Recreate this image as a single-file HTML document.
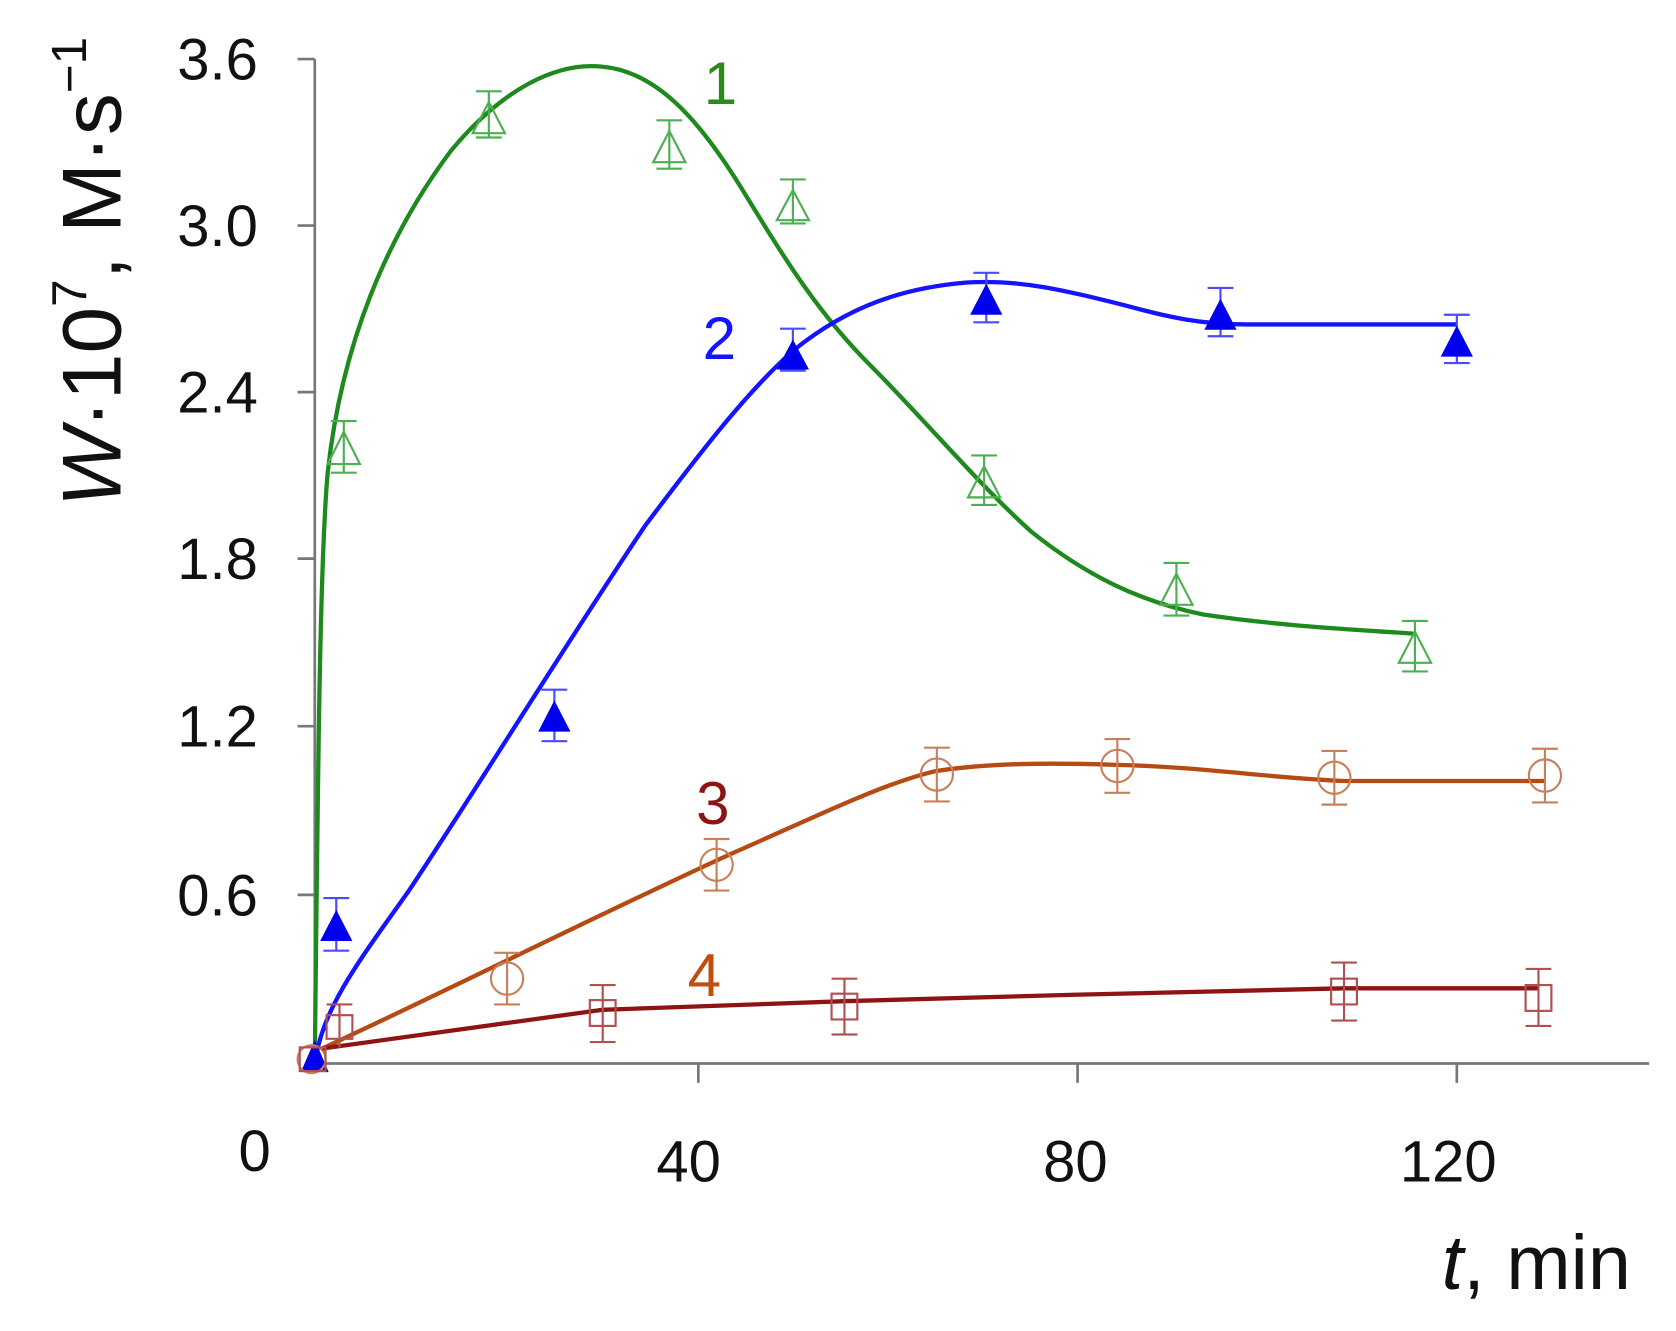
<!DOCTYPE html>
<html><head><style>html,body{margin:0;padding:0;background:#fff}svg{display:block}</style></head>
<body>
<svg width="1676" height="1331" viewBox="0 0 1560 1239" preserveAspectRatio="none" xmlns="http://www.w3.org/2000/svg" font-family="Liberation Sans, sans-serif">
<g stroke="#777" stroke-width="2.5" fill="none">
<line x1="293" y1="55" x2="293" y2="990"/>
<line x1="293" y1="990" x2="1535" y2="990"/>
<line x1="277" y1="55" x2="293" y2="55"/>
<line x1="277" y1="210" x2="293" y2="210"/>
<line x1="277" y1="365" x2="293" y2="365"/>
<line x1="277" y1="520" x2="293" y2="520"/>
<line x1="277" y1="676" x2="293" y2="676"/>
<line x1="277" y1="833" x2="293" y2="833"/>
<line x1="650" y1="990" x2="650" y2="1008"/>
<line x1="1003" y1="990" x2="1003" y2="1008"/>
<line x1="1356" y1="990" x2="1356" y2="1008"/>
</g>
<g font-size="54" fill="#111" text-anchor="end">
<text x="240" y="74">3.6</text>
<text x="240" y="229">3.0</text>
<text x="240" y="384">2.4</text>
<text x="240" y="539">1.8</text>
<text x="240" y="695">1.2</text>
<text x="240" y="852">0.6</text>
</g>
<g font-size="54" fill="#111" text-anchor="middle">
<text x="237" y="1090">0</text>
<text x="641" y="1100">40</text>
<text x="1001" y="1100">80</text>
<text x="1348" y="1100">120</text>
</g>
<text x="1430" y="1200" font-size="72" fill="#111" text-anchor="middle"><tspan font-style="italic">t</tspan>, min</text>
<text transform="translate(112,472) rotate(-90)" font-size="78" fill="#111"><tspan font-style="italic">W</tspan>·10<tspan font-size="46" dy="-32">7</tspan><tspan dy="32">, M·s</tspan><tspan font-size="46" dy="-32">−1</tspan></text>

<!-- series 1 green -->
<path d="M293,990 C296,700 298,520 305,440 C318,320 360,220 420,140 C470,80 520,58 560,62 C610,66 650,110 690,175 C730,240 760,290 810,340 C860,390 910,450 960,495 C1010,535 1060,560 1120,572 C1200,584 1280,587 1317,590" stroke="#1e8a1e" stroke-width="4" fill="none"/>
<g stroke="#4caf50" stroke-width="2" fill="none">
<g><line x1="320" y1="392" x2="320" y2="440"/><line x1="308" y1="392" x2="332" y2="392"/><line x1="308" y1="440" x2="332" y2="440"/><polygon points="320,402 305,432 335,432"/></g>
<g><line x1="455" y1="85" x2="455" y2="128"/><line x1="443" y1="85" x2="467" y2="85"/><line x1="443" y1="128" x2="467" y2="128"/><polygon points="455,95 440,124 470,124"/></g>
<g><line x1="623" y1="112" x2="623" y2="157"/><line x1="611" y1="112" x2="635" y2="112"/><line x1="611" y1="157" x2="635" y2="157"/><polygon points="623,122 608,151 638,151"/></g>
<g><line x1="738" y1="167" x2="738" y2="208"/><line x1="726" y1="167" x2="750" y2="167"/><line x1="726" y1="208" x2="750" y2="208"/><polygon points="738,177 723,205 753,205"/></g>
<g><line x1="916" y1="424" x2="916" y2="470"/><line x1="904" y1="424" x2="928" y2="424"/><line x1="904" y1="470" x2="928" y2="470"/><polygon points="916,434 901,463 931,463"/></g>
<g><line x1="1095" y1="524" x2="1095" y2="573"/><line x1="1083" y1="524" x2="1107" y2="524"/><line x1="1083" y1="573" x2="1107" y2="573"/><polygon points="1095,534 1080,563 1110,563"/></g>
<g><line x1="1317" y1="578" x2="1317" y2="625"/><line x1="1305" y1="578" x2="1329" y2="578"/><line x1="1305" y1="625" x2="1329" y2="625"/><polygon points="1317,588 1302,617 1332,617"/></g>
</g>

<!-- series 2 blue -->
<path d="M293,990 C300,940 330,900 380,830 C440,740 520,610 600,490 C660,410 700,360 740,325 C790,285 840,268 900,263 C950,260 990,270 1050,285 C1090,296 1120,302 1160,302 L1356,302" stroke="#1414ff" stroke-width="4" fill="none"/>
<g stroke="#4a4aff" stroke-width="2" fill="#0000ee">
<g><line x1="313" y1="836" x2="313" y2="885" fill="none"/><line x1="301" y1="836" x2="325" y2="836"/><line x1="301" y1="885" x2="325" y2="885"/><polygon points="313,847 298,876 328,876" stroke="none"/></g>
<g><line x1="516" y1="642" x2="516" y2="690"/><line x1="504" y1="642" x2="528" y2="642"/><line x1="504" y1="690" x2="528" y2="690"/><polygon points="516,652 501,681 531,681" stroke="none"/></g>
<g><line x1="738" y1="306" x2="738" y2="345"/><line x1="726" y1="306" x2="750" y2="306"/><line x1="726" y1="345" x2="750" y2="345"/><polygon points="738,316 723,344 753,344" stroke="none"/></g>
<g><line x1="918" y1="254" x2="918" y2="300"/><line x1="906" y1="254" x2="930" y2="254"/><line x1="906" y1="300" x2="930" y2="300"/><polygon points="918,264 903,293 933,293" stroke="none"/></g>
<g><line x1="1136" y1="268" x2="1136" y2="313"/><line x1="1124" y1="268" x2="1148" y2="268"/><line x1="1124" y1="313" x2="1148" y2="313"/><polygon points="1136,278 1121,307 1151,307" stroke="none"/></g>
<g><line x1="1356" y1="293" x2="1356" y2="338"/><line x1="1344" y1="293" x2="1368" y2="293"/><line x1="1344" y1="338" x2="1368" y2="338"/><polygon points="1356,303 1341,332 1371,332" stroke="none"/></g>
<polygon points="293,968 280,998 306,998" fill="#0000ee" stroke="none"/>
</g>

<!-- series 3 orange-brown -->
<path d="M300,976 C400,930 560,850 680,795 C760,760 820,730 870,718 C920,710 980,710 1040,712 C1120,714 1180,724 1250,727 L1438,727" stroke="#b54a12" stroke-width="4" fill="none"/>
<g stroke="#c8805a" stroke-width="2" fill="none">
<g><line x1="472" y1="887" x2="472" y2="935"/><line x1="460" y1="887" x2="484" y2="887"/><line x1="460" y1="935" x2="484" y2="935"/><circle cx="472" cy="911" r="15"/></g>
<g><line x1="667" y1="781" x2="667" y2="829"/><line x1="655" y1="781" x2="679" y2="781"/><line x1="655" y1="829" x2="679" y2="829"/><circle cx="667" cy="805" r="15"/></g>
<g><line x1="872" y1="696" x2="872" y2="746"/><line x1="860" y1="696" x2="884" y2="696"/><line x1="860" y1="746" x2="884" y2="746"/><circle cx="872" cy="721" r="15"/></g>
<g><line x1="1040" y1="688" x2="1040" y2="738"/><line x1="1028" y1="688" x2="1052" y2="688"/><line x1="1028" y1="738" x2="1052" y2="738"/><circle cx="1040" cy="713" r="15"/></g>
<g><line x1="1242" y1="699" x2="1242" y2="749"/><line x1="1230" y1="699" x2="1254" y2="699"/><line x1="1230" y1="749" x2="1254" y2="749"/><circle cx="1242" cy="724" r="15"/></g>
<g><line x1="1438" y1="697" x2="1438" y2="747"/><line x1="1426" y1="697" x2="1450" y2="697"/><line x1="1426" y1="747" x2="1450" y2="747"/><circle cx="1438" cy="722" r="15"/></g>
<circle cx="290" cy="986" r="13"/>
</g>

<!-- series 4 dark red -->
<path d="M300,976 L561,940 L786,932 L1000,926 L1251,920 L1432,920" stroke="#8e1414" stroke-width="4" fill="none"/>
<g stroke="#b05050" stroke-width="2" fill="none">
<g><line x1="316" y1="935" x2="316" y2="975"/><line x1="304" y1="935" x2="328" y2="935"/><rect x="304" y="945" width="24" height="22"/></g>
<g><line x1="561" y1="917" x2="561" y2="970"/><line x1="549" y1="917" x2="573" y2="917"/><line x1="549" y1="970" x2="573" y2="970"/><rect x="549" y="931" width="24" height="24"/></g>
<g><line x1="786" y1="911" x2="786" y2="963"/><line x1="774" y1="911" x2="798" y2="911"/><line x1="774" y1="963" x2="798" y2="963"/><rect x="774" y="925" width="24" height="24"/></g>
<g><line x1="1251" y1="896" x2="1251" y2="950"/><line x1="1239" y1="896" x2="1263" y2="896"/><line x1="1239" y1="950" x2="1263" y2="950"/><rect x="1239" y="911" width="24" height="24"/></g>
<g><line x1="1432" y1="902" x2="1432" y2="955"/><line x1="1420" y1="902" x2="1444" y2="902"/><line x1="1420" y1="955" x2="1444" y2="955"/><rect x="1420" y="917" width="24" height="24"/></g>
<rect x="279" y="975" width="24" height="22"/>
</g>

<g font-size="56">
<text x="655" y="97" fill="#2a8a1a">1</text>
<text x="654" y="334" fill="#1414ff">2</text>
<text x="648" y="767" fill="#8e1414">3</text>
<text x="640" y="927" fill="#c05010">4</text>
</g>
</svg>
</body></html>
